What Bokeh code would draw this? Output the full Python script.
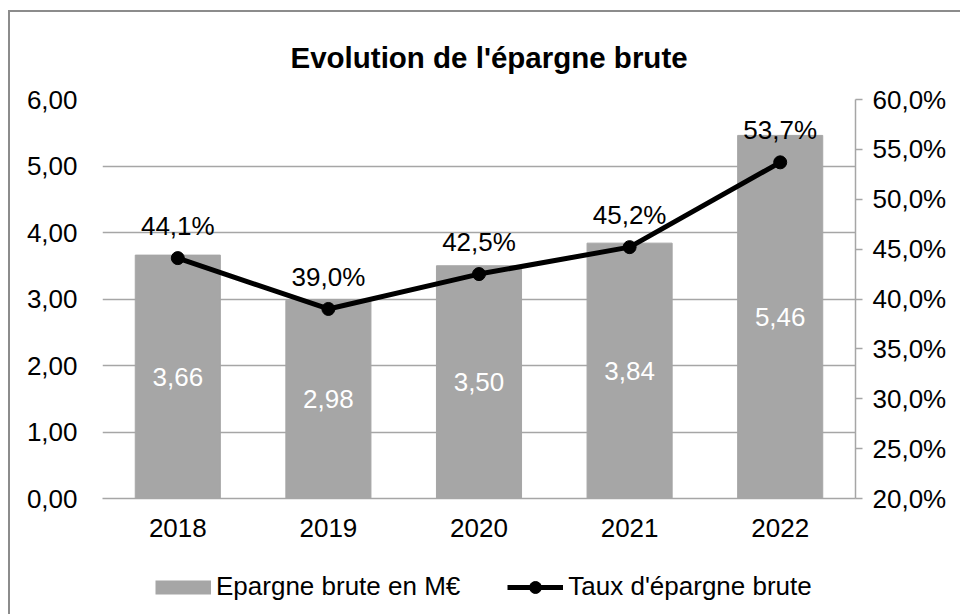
from bokeh.plotting import figure
from bokeh.layouts import column
from bokeh.models import (Range1d, LinearAxis, FixedTicker, ColumnDataSource,
                          LabelSet, Legend, LegendItem, FactorRange)
from bokeh.core.properties import value
from bokeh.embed import file_html
from bokeh.resources import INLINE

# ---- data ----
years = ["2018", "2019", "2020", "2021", "2022"]
epargne = [3.66, 2.98, 3.50, 3.84, 5.46]          # M€
taux = [44.1, 39.0, 42.5, 45.2, 53.7]             # %
left_ticks = [0, 1, 2, 3, 4, 5, 6]
left_tick_labels = ["0,00", "1,00", "2,00", "3,00", "4,00", "5,00", "6,00"]
right_ticks = [20, 25, 30, 35, 40, 45, 50, 55, 60]
right_tick_labels = ["20,0%", "25,0%", "30,0%", "35,0%", "40,0%",
                     "45,0%", "50,0%", "55,0%", "60,0%"]
title_text = "Evolution de l'épargne brute"
bar_legend = "Epargne brute en M€"
line_legend = "Taux d'épargne brute"

FONT = "Liberation Sans"
BAR = "#A6A6A6"
GRID = "#A6A6A6"
EDGE = "2px solid #8C8C8C"
TXT = "26px"
NAN = float("nan")

src = ColumnDataSource(dict(
    year=years,
    val=epargne,
    mid=[v / 2 for v in epargne],
    val_lbl=[f"{v:.2f}".replace(".", ",") for v in epargne],
    taux=taux,
    taux_lbl=[f"{v:.1f}".replace(".", ",") + "%" for v in taux],
))

p = figure(width=952, height=540, x_range=FactorRange(*years),
           y_range=Range1d(0, 6), output_backend="svg", toolbar_location=None,
           min_border_left=92, min_border_right=107, min_border_top=87,
           min_border_bottom=54)
p.styles = {"margin-left": "8px", "margin-top": "10px",
            "border-left": EDGE, "border-top": EDGE}
p.outline_line_color = None
p.background_fill_color = "white"
p.border_fill_color = "white"
p.extra_y_ranges = {"pct": Range1d(20, 60)}

# title
p.title.text = title_text
p.title.text_font = FONT
p.title.text_font_size = "29.5px"
p.title.text_font_style = "bold"
p.title.text_color = "black"
p.title.align = "left"
p.title.offset = 188
p.title.standoff = 52

# left axis
ya = p.yaxis[0]
ya.ticker = FixedTicker(ticks=left_ticks)
ya.major_label_overrides = dict(zip(left_ticks, left_tick_labels))
ya.axis_line_color = None
ya.major_tick_line_color = None
ya.minor_tick_line_color = None
ya.major_label_standoff = 19
ya.major_label_text_font = FONT
ya.major_label_text_font_size = TXT
ya.major_label_text_color = "black"

# right axis
ra = LinearAxis(y_range_name="pct", ticker=FixedTicker(ticks=right_ticks),
                major_label_overrides=dict(zip(right_ticks, right_tick_labels)))
ra.axis_line_color = GRID
ra.axis_line_width = 1.5
ra.major_tick_line_color = GRID
ra.major_tick_line_width = 1.5
ra.major_tick_out = 7
ra.major_tick_in = 0
ra.minor_tick_line_color = None
ra.major_label_standoff = 10
ra.major_label_text_font = FONT
ra.major_label_text_font_size = TXT
ra.major_label_text_color = "black"
p.add_layout(ra, "right")

# x axis
xa = p.xaxis[0]
xa.axis_line_color = GRID
xa.axis_line_width = 1.5
xa.major_tick_line_color = None
xa.major_tick_out = 0
xa.major_label_standoff = 20
xa.major_label_text_font = FONT
xa.major_label_text_font_size = TXT
xa.major_label_text_color = "black"

# grid
p.xgrid.grid_line_color = None
p.ygrid.ticker = FixedTicker(ticks=left_ticks)
p.ygrid.grid_line_color = GRID
p.ygrid.grid_line_width = 1.5

# bars
p.vbar(x="year", top="val", width=0.565, color=BAR, source=src)

# line
p.line(x="year", y="taux", y_range_name="pct", line_width=5,
       color="black", source=src)
p.scatter(x="year", y="taux", y_range_name="pct", size=13,
          color="black", source=src)

# labels
p.add_layout(LabelSet(x="year", y="taux", text="taux_lbl", y_range_name="pct",
                      source=src, text_align="center", text_baseline="middle",
                      y_offset=32, text_font=value(FONT), text_font_size=value(TXT),
                      text_color="black"))
p.add_layout(LabelSet(x="year", y="mid", text="val_lbl", source=src,
                      text_align="center", text_baseline="middle",
                      text_font=value(FONT), text_font_size=value(TXT),
                      text_color="white"))

# legend strip (separate figure under the chart)
lg = figure(width=952, height=64, x_range=Range1d(0, 1), y_range=Range1d(0, 1),
            output_backend="svg", toolbar_location=None,
            x_axis_type=None, y_axis_type=None,
            min_border_left=0, min_border_right=0, min_border_top=0,
            min_border_bottom=0)
lg.styles = {"margin-left": "8px", "border-left": EDGE}
lg.outline_line_color = None
lg.xgrid.grid_line_color = None
lg.ygrid.grid_line_color = None
lg.background_fill_color = "white"
lg.border_fill_color = "white"

# off-screen proxies (NaN) so that the legend draws its swatches
bar_proxy = lg.line(x=[NAN], y=[NAN], line_width=14, color=BAR)
line_proxy = lg.line(x=[NAN], y=[NAN], line_width=5, color="black")
mark_proxy = lg.scatter(x=[NAN], y=[NAN], size=12, color="black")

legend = Legend(items=[LegendItem(label=bar_legend, renderers=[bar_proxy]),
                       LegendItem(label=line_legend, renderers=[line_proxy, mark_proxy])],
                location=(53, 12), orientation="horizontal",
                glyph_width=56, glyph_height=30, label_standoff=5,
                spacing=47, padding=5, margin=0,
                border_line_color=None, background_fill_alpha=0,
                label_text_font=FONT, label_text_font_size=TXT,
                label_text_color="black")
lg.add_layout(legend)

layout = column(p, lg, spacing=0)
open("out.html", "w").write(file_html(layout, INLINE))
